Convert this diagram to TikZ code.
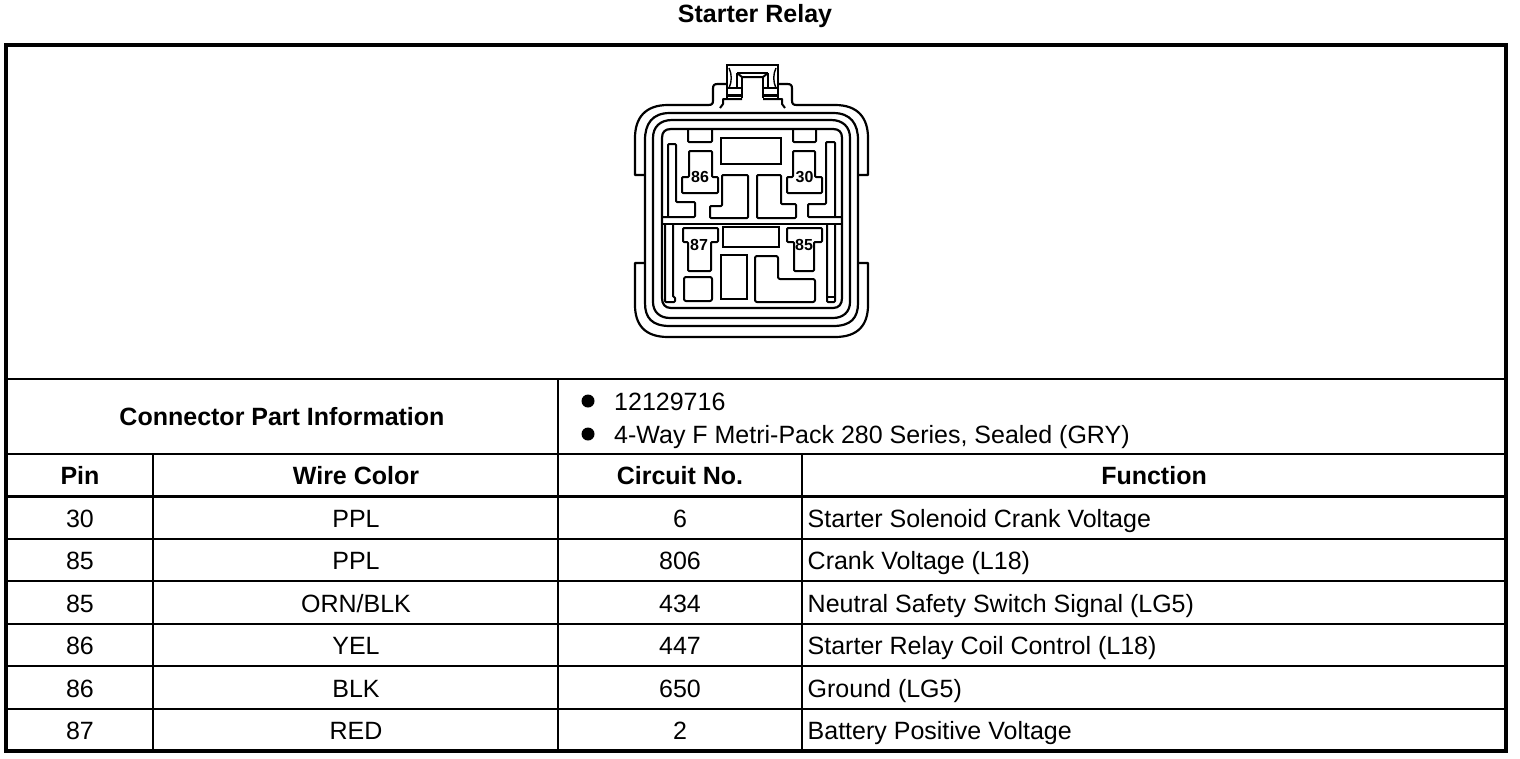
\documentclass[tikz,border=0pt]{standalone}
\usepackage{fontspec}
\setmainfont{Liberation Sans}
\tikzset{
 x=1pt,y=-1pt,
 frame/.style={line width=4pt,line join=miter},
 rule/.style={line width=2pt},
 rulethick/.style={line width=3pt},
 part/.style={line width=2pt,line join=round,rounded corners=1pt},
 partthick/.style={line width=2.8pt,line join=miter},
 shell/.style={line width=2.2pt,line join=round},
 txt/.style={anchor=base,inner sep=0pt,font=\fontsize{25}{30}\selectfont},
 hd/.style={txt,font=\fontsize{25}{30}\selectfont\bfseries},
 lft/.style={txt,anchor=base west},
 pinlab/.style={anchor=center,inner sep=0pt,font=\fontsize{16}{18}\selectfont\bfseries},
 bullet/.style={circle,fill=black,inner sep=0pt,minimum size=13pt},
}
\begin{document}
\begin{tikzpicture}
\useasboundingbox (0,0) rectangle (1520,758);
% table
\draw[frame] (6,45) rectangle (1506,751);
\foreach \yy in {379,454,539,581,624,666,709}{\draw[rule] (6,\yy) -- (1506,\yy);}
\draw[rulethick] (6,496) -- (1506,496);
\draw[rule] (153,454) -- (153,751);
\draw[rule] (558,379) -- (558,751);
\draw[rule] (802,454) -- (802,751);
% text
\node[hd] (title) at (755,22.5) {Starter Relay};
\node[hd] (cpi) at (282,425.5) {Connector Part Information};
\node[bullet] (b1) at (588,401) {};
\node[bullet] (b2) at (588,434) {};
\node[lft] (i1) at (614,410) {12129716};
\node[lft] (i2) at (614,443) {4-Way F Metri-Pack 280 Series, Sealed (GRY)};
\node[hd] (h1) at (80,484.5) {Pin};
\node[hd] (h2) at (356,484.5) {Wire Color};
\node[hd] (h3) at (680,484.5) {Circuit No.};
\node[hd] (h4) at (1154,484.5) {Function};
\node[txt] (p1) at (80,527) {30};
\node[txt] (c1) at (356,527) {PPL};
\node[txt] (n1) at (680,527) {6};
\node[lft] (f1) at (807.5,527) {Starter Solenoid Crank Voltage};
\node[txt] (p2) at (80,569) {85};
\node[txt] (c2) at (356,569) {PPL};
\node[txt] (n2) at (680,569) {806};
\node[lft] (f2) at (807.5,569) {Crank Voltage (L18)};
\node[txt] (p3) at (80,612) {85};
\node[txt] (c3) at (356,612) {ORN/BLK};
\node[txt] (n3) at (680,612) {434};
\node[lft] (f3) at (807.5,612) {Neutral Safety Switch Signal (LG5)};
\node[txt] (p4) at (80,654) {86};
\node[txt] (c4) at (356,654) {YEL};
\node[txt] (n4) at (680,654) {447};
\node[lft] (f4) at (807.5,654) {Starter Relay Coil Control (L18)};
\node[txt] (p5) at (80,697) {86};
\node[txt] (c5) at (356,697) {BLK};
\node[txt] (n5) at (680,697) {650};
\node[lft] (f5) at (807.5,697) {Ground (LG5)};
\node[txt] (p6) at (80,739) {87};
\node[txt] (c6) at (356,739) {RED};
\node[txt] (n6) at (680,739) {2};
\node[lft] (f6) at (807.5,739) {Battery Positive Voltage};
% connector shell
\draw[shell] (645,175) -- (635,175) -- (635,138) .. controls (635,118) and (645,105) .. (668,105) -- (708,105)
  .. controls (712,105) and (713,104) .. (713,100) -- (713,89) .. controls (713,85) and (714,84) .. (718,84) -- (727,84);
\draw[shell] (858,175) -- (868,175) -- (868,138) .. controls (868,118) and (858,105) .. (835,105) -- (797,105)
  .. controls (793,105) and (792,104) .. (792,100) -- (792,89) .. controls (792,85) and (791,84) .. (787,84) -- (778,84);
\draw[shell] (645,263) -- (635,263) -- (635,305) .. controls (635,325) and (645,337) .. (668,337) -- (835,337)
  .. controls (858,337) and (868,325) .. (868,305) -- (868,263) -- (858,263);
\draw[shell] (645,303) -- (645,140) .. controls (645,124) and (652,113) .. (670,113) -- (833,113)
  .. controls (851,113) and (858,124) .. (858,140) -- (858,303) .. controls (858,318) and (851,326) .. (833,326)
  -- (670,326) .. controls (652,326) and (645,318) .. (645,303) -- cycle;
\draw[shell] (653,302) -- (653,138) .. controls (653,127) and (660,120) .. (672,120) -- (831,120)
  .. controls (843,120) and (850,127) .. (850,138) -- (850,302) .. controls (850,312) and (843,318) .. (833,318)
  -- (670,318) .. controls (660,318) and (653,312) .. (653,302) -- cycle;
\draw[shell] (662,298) -- (662,138) .. controls (662,132) and (665,129) .. (671,129) -- (833,129)
  .. controls (839,129) and (842,132) .. (842,138) -- (842,298) .. controls (842,304) and (839,308) .. (833,308)
  -- (671,308) .. controls (665,308) and (662,304) .. (662,298) -- cycle;
\draw[shell] (662,224) -- (842,224);
% latch
\draw[partthick] (727,98) -- (727,65) -- (778,65) -- (778,98);
\draw[part,rounded corners=0pt] (737,73) -- (768,73);
\draw[part,rounded corners=0pt] (737,73) -- (742,77) -- (763,77) -- (768,73);
\draw[part,rounded corners=0pt] (742,77) -- (742,98);
\draw[part,rounded corners=0pt] (763,77) -- (763,98);
\draw[part,rounded corners=0pt] (737,73) -- (737,88);
\draw[part,rounded corners=0pt] (768,73) -- (768,88);
\draw[line width=1.4pt] (729,68) .. controls (732,74) and (732,82) .. (729,88);
\draw[line width=1.4pt] (776,68) .. controls (773,74) and (773,82) .. (776,88);
\draw[part,rounded corners=0pt] (727,88) -- (742,88);
\draw[part,rounded corners=0pt] (778,88) -- (763,88);
\fill (727,93.5) rectangle (742,97);
\fill (763,93.5) rectangle (778,97);
\draw[part,rounded corners=0pt] (720,108) -- (723,104) -- (723,99) -- (742,99);
\draw[part,rounded corners=0pt] (785,108) -- (782,104) -- (782,99) -- (763,99);
% upper cavities
\draw[part] (688,129) -- (688,142) -- (712,142) -- (712,129);
\draw[part] (793,129) -- (793,142) -- (816,142) -- (816,129);
\draw[partthick] (721,138) rectangle (781,164);
\draw[part] (668,217) -- (668,144) -- (676,144) -- (676,202) -- (695,202) -- (695,217) -- (662,217);
\draw[part] (835,217) -- (835,142) -- (826,142) -- (826,204) -- (808,204) -- (808,217) -- (842,217);
\draw[part] (689,177) -- (689,151) -- (712,151) -- (712,177) -- (718,177) -- (718,193) -- (682,193) -- (682,177) -- cycle;
\draw[part] (793,177) -- (793,151) -- (815,151) -- (815,177) -- (822,177) -- (822,193) -- (787,193) -- (787,177) -- cycle;
\draw[part] (722,206) -- (722,175) -- (748,175) -- (748,218) -- (710,218) -- (710,206) -- cycle;
\draw[part] (757,175) -- (781,175) -- (781,204) -- (796,204) -- (796,218) -- (757,218) -- cycle;
\node[pinlab] (l86) at (700,177) {86};
\node[pinlab] (l30) at (804.5,177) {30};
% lower cavities
\draw[part] (665,225) -- (665,302) -- (675,302) -- (675,297) -- (673,297) -- (673,225);
\draw[part] (835,225) -- (835,302) -- (827,302) -- (827,225);
\draw[part] (827,297) -- (835,297);
\draw[part] (683,228) -- (718,228) -- (718,242) -- (711,242) -- (711,271) -- (688,271) -- (688,242) -- (683,242) -- cycle;
\draw[part] (787,228) -- (822,228) -- (822,242) -- (814,242) -- (814,271) -- (794,271) -- (794,242) -- (787,242) -- cycle;
\draw[partthick] (723,227) rectangle (779,247);
\draw[part,rounded corners=2pt] (684,277) rectangle (712,301);
\draw[partthick] (721,255) rectangle (747,299);
\draw[part,rounded corners=2pt] (755,256) -- (778,256) -- (778,279) -- (815,279) -- (815,302) -- (755,302) -- cycle;
\node[pinlab] (l87) at (699,245) {87};
\node[pinlab] (l85) at (804,245) {85};
\end{tikzpicture}
\end{document}
